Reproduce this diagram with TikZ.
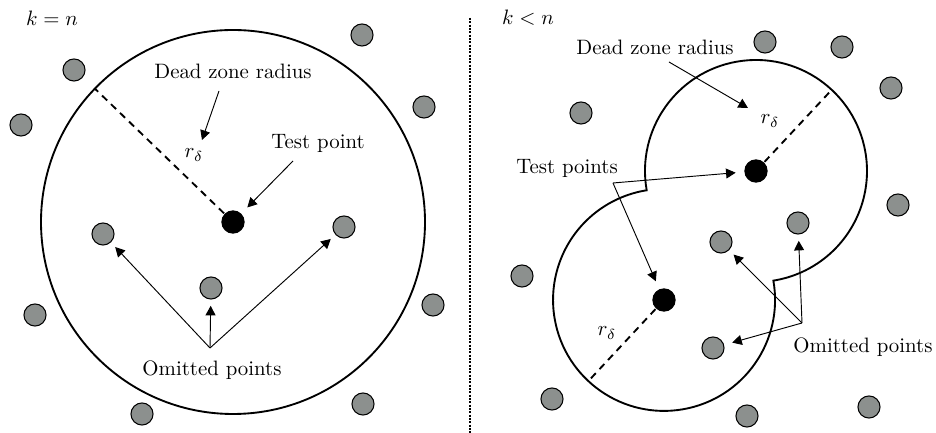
\documentclass[tikz,border=0pt]{standalone}
\usepackage{amsmath}
\usetikzlibrary{arrows.meta,calc}
\definecolor{dotgray}{HTML}{8C908E}
\definecolor{charcoal}{HTML}{000000}
\tikzset{
  omitdot/.style={
    circle,
    draw=charcoal,
    line width=0.5pt,
    fill=dotgray,
    minimum size=10.6pt,
    inner sep=0pt
  },
  testdot/.style={
    circle,
    fill=charcoal,
    minimum size=11.2pt,
    inner sep=0pt
  },
  zoneline/.style={draw=charcoal,line width=0.9pt},
  radiusline/.style={draw=charcoal,line width=0.9pt,dash pattern=on 3.4pt off 2.6pt},
  splitline/.style={draw=charcoal,line width=0.9pt,dash pattern=on 0.9pt off 0.7pt},
  calloutlabel/.style={font=\normalsize,inner sep=1pt},
  pointarrow/.style={-{Triangle[length=4.6pt,width=4.8pt]},line width=0.45pt,draw=charcoal}
}

\begin{document}
\begin{tikzpicture}[x=0.48pt,y=0.48pt]
\useasboundingbox (0,0) rectangle (936,433);
% left panel, k = n
\coordinate (cL) at (233,211);
\draw[zoneline] (cL) circle[radius=192];
\draw[radiusline] (cL) -- ++(136:192);
\node[testdot] (tL) at (cL) {};
\node[omitdot] (l1) at (362,398) {};
\node[omitdot] (l2) at (74,363) {};
\node[omitdot] (l3) at (424,326) {};
\node[omitdot] (l4) at (21,308) {};
\node[omitdot] (l5) at (103,199) {};
\node[omitdot] (l6) at (344,206) {};
\node[omitdot] (l7) at (211,145) {};
\node[omitdot] (l8) at (35,118) {};
\node[omitdot] (l9) at (433,128) {};
\node[omitdot] (l10) at (142,19) {};
\node[omitdot] (l11) at (363,29) {};
\node[calloutlabel] (caseL) at (52,415) {$k=n$};
\node[calloutlabel] (deadL) at (233,362) {Dead zone radius};
\node[calloutlabel] (radL) at (194,278) {$r_\delta$};
\node[calloutlabel] (testL) at (318,290) {Test point};
\node[calloutlabel] (omitL) at (212,63) {Omitted points};
\coordinate (deadLtail) at (219,342);
\coordinate (deadLhead) at (202,293);
\coordinate (testLtail) at (293,272);
\coordinate (omitLtail) at (210,85);
\draw[pointarrow] (deadLtail) -- (deadLhead);
\draw[pointarrow,shorten >=4pt] (testLtail) -- (tL);
\draw[pointarrow,shorten >=3pt] (omitLtail) -- (l5);
\draw[pointarrow,shorten >=3pt] (omitLtail) -- (l7);
\draw[pointarrow,shorten >=3pt] (omitLtail) -- (l6);
% divider
\coordinate (splittop) at (470,415);
\coordinate (splitbot) at (470,0);
\draw[splitline] (splittop) -- (splitbot);
% right panel, k < n
\coordinate (cA) at (756,262);
\coordinate (cB) at (664,133);
\draw[zoneline] ($(cA)+(190:111)$) arc[start angle=190,end angle=-81,radius=111]
  arc[start angle=10,end angle=-261,radius=111] -- cycle;
\draw[radiusline] (cA) -- ++(47:111);
\draw[radiusline] (cB) -- ++(227:111);
\node[testdot] (tA) at (cA) {};
\node[testdot] (tB) at (cB) {};
\node[omitdot] (r1) at (765,391) {};
\node[omitdot] (r2) at (842,386) {};
\node[omitdot] (r3) at (581,320) {};
\node[omitdot] (r4) at (891,345) {};
\node[omitdot] (r5) at (898,228) {};
\node[omitdot] (r6) at (798,210) {};
\node[omitdot] (r7) at (721,191) {};
\node[omitdot] (r8) at (522,157) {};
\node[omitdot] (r9) at (713,85) {};
\node[omitdot] (r10) at (552,34) {};
\node[omitdot] (r11) at (747,17) {};
\node[omitdot] (r12) at (869,26) {};
\node[calloutlabel] (caseR) at (528,415) {$k<n$};
\node[calloutlabel] (deadR) at (655,386) {Dead zone radius};
\node[calloutlabel] (radA) at (770,312) {$r_\delta$};
\node[calloutlabel] (radB) at (607,100) {$r_\delta$};
\node[calloutlabel] (testR) at (567,265) {Test points};
\node[calloutlabel] (omitR) at (863,86) {Omitted points};
\coordinate (deadRtail) at (669,371);
\coordinate (deadRhead) at (748,325);
\coordinate (testRtail) at (613,250);
\coordinate (omitRtail) at (802,110);
\draw[pointarrow] (deadRtail) -- (deadRhead);
\draw[pointarrow,shorten >=4pt] (testRtail) -- (tA);
\draw[pointarrow,shorten >=4pt] (testRtail) -- (tB);
\draw[pointarrow,shorten >=3pt] (omitRtail) -- (r7);
\draw[pointarrow,shorten >=3pt] (omitRtail) -- (r6);
\draw[pointarrow,shorten >=4pt] (omitRtail) -- (r9);
\end{tikzpicture}
\end{document}
